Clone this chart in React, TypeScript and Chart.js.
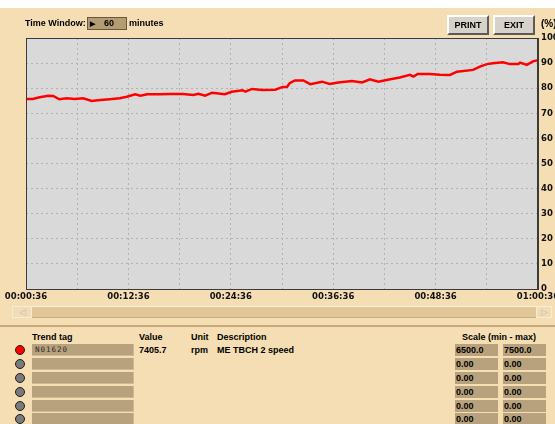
import React, { useEffect, useRef } from "react";
import { Chart, registerables } from "chart.js";

Chart.register(...registerables);

// ---- data ----
const timeMinutes = [
  0, 0.8, 1.6, 2.6, 3.2, 3.9, 4.8, 5.7, 6.7, 7.7, 8.7, 9.8, 11.0, 11.8, 12.8, 13.4,
  14.2, 15.7, 16.9, 18.4, 19.6, 20.2, 21.0, 21.8, 23.3, 24.1, 25.4, 25.7, 26.5, 27.7,
  29.2, 30.0, 30.6, 30.9, 31.5, 32.5, 33.3, 34.7, 35.6, 36.6, 38.2, 39.4, 40.3, 41.3,
  42.7, 43.8, 45.0, 45.4, 45.9, 47.3, 48.5, 49.7, 50.5, 52.4, 53.2, 54.0, 54.7, 55.9,
  56.7, 57.7, 57.9, 58.7, 59.4, 60.0,
];
const speedPct = [
  75.7, 75.7, 76.4, 77.0, 76.9, 75.6, 76.0, 75.7, 76.0, 74.9, 75.3, 75.6, 76.0, 76.6, 77.6, 77.0,
  77.6, 77.6, 77.7, 77.7, 77.3, 77.8, 77.0, 78.2, 77.6, 78.6, 79.2, 78.6, 79.7, 79.3,
  79.4, 80.4, 80.6, 82.0, 83.1, 83.1, 81.6, 82.6, 81.7, 82.3, 82.9, 82.3, 83.5, 82.6,
  83.6, 84.3, 85.3, 84.6, 85.7, 85.7, 85.4, 85.3, 86.6, 87.3, 88.6, 89.6, 89.9, 90.3,
  89.6, 89.6, 90.2, 89.3, 90.7, 91.1,
];
const timeTickLabels = ["00:00:36", "00:12:36", "00:24:36", "00:36:36", "00:48:36", "01:00:36"];

const trendTags = ["N01620", "", "", "", "", ""];
const trendActive = [true, false, false, false, false, false];
const trendValues = ["7405.7", "", "", "", "", ""];
const trendUnits = ["rpm", "", "", "", "", ""];
const trendDescriptions = ["ME TBCH 2 speed", "", "", "", "", ""];
const scaleMin = ["6500.0", "0.00", "0.00", "0.00", "0.00", "0.00"];
const scaleMax = ["7500.0", "0.00", "0.00", "0.00", "0.00", "0.00"];
const timeWindowMinutes = "60";

// ---- styling ----
const BG = "#f5deb3";
const BOX = "#b8a27d";
const TXT = "'Liberation Sans', Arial, sans-serif";
const AXISFONT = "DejaVu Sans";

function T(props: { x: number; y: number; children: any; style?: any }) {
  return (
    <div
      style={{
        position: "absolute",
        left: props.x,
        top: props.y - 6,
        lineHeight: "12px",
        whiteSpace: "nowrap",
        ...(props.style || {}),
      }}
    >
      {props.children}
    </div>
  );
}

const plotFrame = {
  id: "plotFrame",
  beforeDraw(chart: any) {
    const { ctx, chartArea: a } = chart;
    ctx.save();
    ctx.fillStyle = "#d9d9d9";
    ctx.fillRect(a.left, a.top, a.right - a.left, a.bottom - a.top);
    ctx.restore();
  },
  afterDraw(chart: any) {
    const { ctx, chartArea: a } = chart;
    ctx.save();
    ctx.strokeStyle = "#3a3a3a";
    ctx.lineWidth = 1;
    ctx.strokeRect(a.left + 0.5, a.top + 0.5, a.right - a.left - 1, a.bottom - a.top);
    ctx.restore();
  },
};

export default function App() {
  const ref = useRef<HTMLCanvasElement>(null);

  useEffect(() => {
    const chart = new Chart(ref.current as HTMLCanvasElement, {
      type: "line",
      data: {
        datasets: [
          {
            data: timeMinutes.map((t, i) => ({ x: t, y: speedPct[i] })),
            borderColor: "#ff0000",
            borderWidth: 2.5,
            pointRadius: 0,
            tension: 0,
            fill: false,
          },
        ],
      },
      options: {
        animation: false,
        responsive: false,
        maintainAspectRatio: false,
        layout: { padding: { left: 26, top: 38, right: 0, bottom: 0 } },
        plugins: { legend: { display: false }, tooltip: { enabled: false } },
        scales: {
          x: {
            type: "linear",
            min: 0,
            max: 60,
            position: "bottom",
            afterFit: (s: any) => {
              s.height = 15;
            },
            grid: { color: "#b2b2b2", drawTicks: false, lineWidth: 1 },
            border: { display: true, color: "#3a3a3a", dash: [2, 3] },
            ticks: {
              stepSize: 6,
              autoSkip: false,
              maxRotation: 0,
              minRotation: 0,
              padding: 3,
              color: "#111",
              font: { family: AXISFONT, weight: "bold", size: 8.5 },
              callback: (_v: any, i: number) => (i % 2 === 0 ? timeTickLabels[i / 2] : ""),
            },
          },
          y: {
            min: 0,
            max: 100,
            position: "right",
            afterFit: (s: any) => {
              s.width = 42;
            },
            grid: { color: "#b2b2b2", drawTicks: false, lineWidth: 1 },
            border: { display: true, color: "#3a3a3a", dash: [2, 3] },
            ticks: {
              stepSize: 10,
              padding: 3,
              color: "#111",
              font: { family: AXISFONT, weight: "bold", size: 8.5 },
            },
          },
        },
      },
      plugins: [plotFrame],
    } as any);
    return () => chart.destroy();
  }, []);

  const rowTops = [344, 358, 372, 386, 400, 413];

  const button = (x: number, label: string) => (
    <div
      style={{
        position: "absolute",
        left: x,
        top: 15,
        width: 42,
        height: 20,
        boxSizing: "border-box",
        background: "#d6d2ca",
        borderTop: "2px solid #ffffff",
        borderLeft: "2px solid #ffffff",
        borderRight: "2px solid #5a5a5a",
        borderBottom: "2px solid #5a5a5a",
        textAlign: "center",
        lineHeight: "16px",
        fontSize: 9,
      }}
    >
      {label}
    </div>
  );

  return (
    <div
      style={{
        position: "fixed",
        left: 0,
        top: 0,
        width: 555,
        height: 424,
        overflow: "hidden",
        background: BG,
        fontFamily: TXT,
        fontWeight: "bold",
        fontSize: 9,
        color: "#000",
      }}
    >
      <div style={{ position: "absolute", left: 0, top: 0, width: 555, height: 8, background: "#fff" }} />
      <canvas
        ref={ref}
        width={580}
        height={304}
        style={{ position: "absolute", left: 0, top: 0, width: 580, height: 304 }}
      />

      {/* header */}
      <T x={25} y={23}>Time Window:</T>
      <div
        style={{
          position: "absolute",
          left: 87,
          top: 17,
          width: 40,
          height: 13,
          boxSizing: "border-box",
          background: "#b39c74",
          border: "1px solid #6b5839",
          lineHeight: "11px",
        }}
      >
        <span style={{ position: "absolute", left: 2, top: 0, fontSize: 7 }}>▶</span>
        <span style={{ position: "absolute", left: 16, top: 0 }}>{timeWindowMinutes}</span>
      </div>
      <T x={129} y={23}>minutes</T>
      {button(447, "PRINT")}
      {button(493, "EXIT")}
      <T x={541} y={24} style={{ fontSize: 10 }}>(%)</T>

      {/* scrollbar */}
      <div
        style={{
          position: "absolute",
          left: 12,
          top: 306,
          width: 540,
          height: 12,
          boxSizing: "border-box",
          background: "#e1c697",
          borderTop: "1px solid #fbefd6",
          borderLeft: "1px solid #fbefd6",
          borderBottom: "1px solid #c9ad80",
          borderRight: "1px solid #c9ad80",
        }}
      />
      <div
        style={{
          position: "absolute",
          left: 12,
          top: 306,
          width: 20,
          height: 12,
          boxSizing: "border-box",
          background: "#f1dcb5",
          border: "1px solid #f9ebd0",
          color: "#bcbcbc",
          fontSize: 9,
          lineHeight: "10px",
          textAlign: "center",
          fontWeight: "normal",
        }}
      >
        ◁
      </div>
      <div
        style={{
          position: "absolute",
          left: 536,
          top: 306,
          width: 16,
          height: 12,
          boxSizing: "border-box",
          background: "#f1dcb5",
          border: "1px solid #f9ebd0",
          color: "#bcbcbc",
          fontSize: 9,
          lineHeight: "10px",
          textAlign: "center",
          fontWeight: "normal",
        }}
      >
        ▷
      </div>

      {/* separator */}
      <div style={{ position: "absolute", left: 0, top: 325, width: 555, height: 2, background: "#c8a97c" }} />

      {/* table header */}
      <T x={32} y={337}>Trend tag</T>
      <T x={139} y={337}>Value</T>
      <T x={191} y={337}>Unit</T>
      <T x={217} y={337}>Description</T>
      <T x={462} y={337}>Scale (min - max)</T>

      {rowTops.map((top, i) => (
        <React.Fragment key={i}>
          <div
            style={{
              position: "absolute",
              left: 15,
              top: top + 1,
              width: 10,
              height: 10,
              boxSizing: "border-box",
              borderRadius: "50%",
              border: "1.5px solid #1e1e1e",
              background: trendActive[i] ? "#ff0000" : "#7a7a7a",
            }}
          />
          <div
            style={{
              position: "absolute",
              left: 32,
              top,
              width: 102,
              height: 12,
              background: BOX,
              boxSizing: "border-box",
              borderBottom: "1px solid #cdb994",
              borderRight: "1px solid #cdb994",
              fontFamily: "'DejaVu Sans Mono', monospace",
              fontWeight: "normal",
              fontSize: 7.5,
              letterSpacing: 1,
              color: "#2a2a2a",
              lineHeight: "11px",
              paddingLeft: 3,
            }}
          >
            {trendTags[i]}
          </div>
          <T x={139} y={top + 6}>{trendValues[i]}</T>
          <T x={191} y={top + 6}>{trendUnits[i]}</T>
          <T x={217} y={top + 6}>{trendDescriptions[i]}</T>
          <div
            style={{
              position: "absolute",
              left: 455,
              top,
              width: 43,
              height: 12,
              background: BOX,
              lineHeight: "12px",
              paddingLeft: 1,
              boxSizing: "border-box",
            }}
          >
            {scaleMin[i]}
          </div>
          <div
            style={{
              position: "absolute",
              left: 503,
              top,
              width: 43,
              height: 12,
              background: BOX,
              lineHeight: "12px",
              paddingLeft: 1,
              boxSizing: "border-box",
            }}
          >
            {scaleMax[i]}
          </div>
        </React.Fragment>
      ))}
    </div>
  );
}
